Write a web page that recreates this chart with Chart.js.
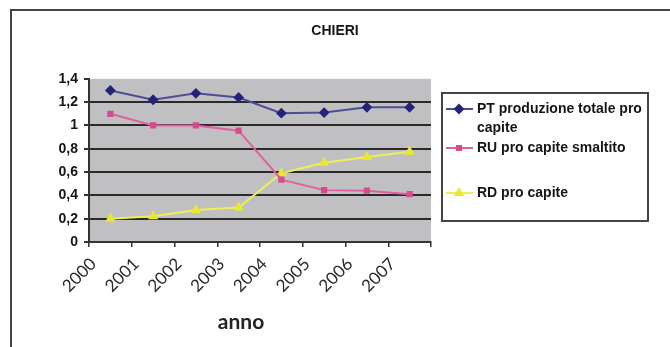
<!DOCTYPE html>
<html>
<head>
<meta charset="utf-8">
<script src="https://cdn.jsdelivr.net/npm/chart.js@4.4.0/dist/chart.umd.min.js"></script>
<style>
  body { margin: 0; background: #fff; }
</style>
</head>
<body>
<canvas id="chart" width="670" height="347"></canvas>
<script>
let years = ["2000", "2001", "2002", "2003", "2004", "2005", "2006", "2007"];
let pt_values = [1.3, 1.22, 1.275, 1.24, 1.105, 1.11, 1.155, 1.155];
let ru_values = [1.1, 1.0, 1.0, 0.955, 0.535, 0.445, 0.44, 0.41];
let rd_values = [0.2, 0.22, 0.275, 0.295, 0.59, 0.68, 0.73, 0.775];
let series_names = [
  "PT produzione totale pro capite",
  "RU pro capite smaltito",
  "RD pro capite",
];
let y_tick_labels = ["0", "0,2", "0,4", "0,6", "0,8", "1", "1,2", "1,4"];
let x_title = "anno";

let label_font = '"Liberation Sans", Arial, sans-serif';
let year_font = 'Lato, "DejaVu Sans", sans-serif';

// legend rows (first line, middle), box drawn by hand like the excel one
let legend_rows_y = [109, 148, 193];

let frame_plugin = {
  id: "frame",
  beforeDraw(chart) {
    let ctx = chart.ctx;
    let area = chart.chartArea;
    ctx.save();
    ctx.fillStyle = "#fff";
    ctx.fillRect(0, 0, chart.width, chart.height);
    ctx.strokeStyle = "#444";
    ctx.lineWidth = 2;
    ctx.beginPath();
    ctx.moveTo(11, chart.height);
    ctx.lineTo(11, 10);
    ctx.lineTo(chart.width, 10);
    ctx.stroke();
    ctx.fillStyle = "#c0c0c2";
    ctx.fillRect(area.left, area.top, area.right - area.left, area.bottom - area.top);
    ctx.restore();
  },
  afterDraw(chart) {
    let ctx = chart.ctx;
    let area = chart.chartArea;
    ctx.save();
    // axis title
    ctx.fillStyle = "#222";
    ctx.font = "bold 21px " + year_font;
    ctx.textAlign = "center";
    ctx.textBaseline = "middle";
    ctx.fillText(x_title, area.left + 152, 322);

    // legend
    ctx.fillStyle = "#fff";
    ctx.fillRect(442, 93, 206, 128);
    ctx.strokeStyle = "#444";
    ctx.lineWidth = 2;
    ctx.strokeRect(442, 93, 206, 128);
    ctx.font = "bold 14px " + label_font;
    ctx.textAlign = "left";
    chart.data.datasets.forEach((ds, i) => {
      let y = legend_rows_y[i];
      ctx.strokeStyle = ds.borderColor;
      ctx.lineWidth = 2;
      ctx.beginPath();
      ctx.moveTo(446, y);
      ctx.lineTo(473, y);
      ctx.stroke();
      ctx.fillStyle = ds.pointBackgroundColor;
      ctx.strokeStyle = ds.pointBackgroundColor;
      Chart.helpers.drawPoint(
        ctx,
        { pointStyle: ds.pointStyle, radius: ds.pointRadius, borderWidth: 1, rotation: 0 },
        459,
        y
      );
      // simple word wrap
      let words = ds.label.split(" ");
      let lines = [];
      let line = "";
      for (let w of words) {
        let test = line ? line + " " + w : w;
        if (ctx.measureText(test).width > 168 && line) {
          lines.push(line);
          line = w;
        } else {
          line = test;
        }
      }
      lines.push(line);
      ctx.fillStyle = "#151515";
      for (let j = 0; j < lines.length; j++) {
        ctx.fillText(lines[j], 477, y + j * 19);
      }
    });
    ctx.restore();
  },
};

let config = {
  type: "line",
  data: {
    labels: years,
    datasets: [
      {
        label: series_names[0],
        data: pt_values,
        borderColor: "#4d4d96",
        pointBackgroundColor: "#23237a",
        pointBorderColor: "#23237a",
        pointStyle: "rectRot",
        pointRadius: 4,
        borderWidth: 2,
      },
      {
        label: series_names[1],
        data: ru_values,
        borderColor: "#e0609e",
        pointBackgroundColor: "#d84a90",
        pointBorderColor: "#d84a90",
        pointStyle: "rect",
        pointRadius: 3,
        borderWidth: 2,
      },
      {
        label: series_names[2],
        data: rd_values,
        borderColor: "#eeee5a",
        pointBackgroundColor: "#e8e830",
        pointBorderColor: "#e8e830",
        pointStyle: "triangle",
        pointRadius: 4,
        borderWidth: 2,
      },
    ],
  },
  options: {
    responsive: false,
    animation: false,
    events: [],
    layout: { padding: 0 },
    plugins: {
      legend: { display: false },
      tooltip: { enabled: false },
      title: {
        display: true,
        text: "CHIERI",
        color: "#151515",
        font: { family: label_font, size: 14, weight: "bold" },
        padding: { top: 23, bottom: 39 },
      },
    },
    scales: {
      x: {
        offset: true,
        grid: {
          offset: true,
          drawOnChartArea: false,
          tickLength: 5,
          color: "#333",
          lineWidth: 1.5,
        },
        border: { color: "#333", width: 2 },
        ticks: {
          autoSkip: false,
          minRotation: 45,
          maxRotation: 45,
          padding: 7,
          labelOffset: -17,
          color: "#2a2a2a",
          font: { family: year_font, size: 17 },
        },
        afterFit(scale) {
          scale.height = 105;
        },
      },
      y: {
        min: 0,
        max: 1.4,
        grid: {
          color: (c) => (c.tick && c.tick.value > 1.39 ? "rgba(0,0,0,0)" : "#2a2a2a"),
          tickColor: "#333",
          lineWidth: 2,
          tickLength: 5,
        },
        border: { color: "#333", width: 2 },
        ticks: {
          stepSize: 0.2,
          padding: 6,
          color: "#151515",
          font: { family: label_font, size: 14, weight: "bold" },
          callback: (value, index) => y_tick_labels[index],
        },
        afterFit(scale) {
          scale.width = 89;
        },
      },
      spacer: {
        position: "right",
        display: true,
        grid: { display: false },
        border: { display: false },
        ticks: { display: false },
        afterFit(scale) {
          scale.width = 239;
        },
      },
    },
  },
  plugins: [frame_plugin],
};

let chart = new Chart(document.getElementById("chart"), config);
</script>
</body>
</html>
